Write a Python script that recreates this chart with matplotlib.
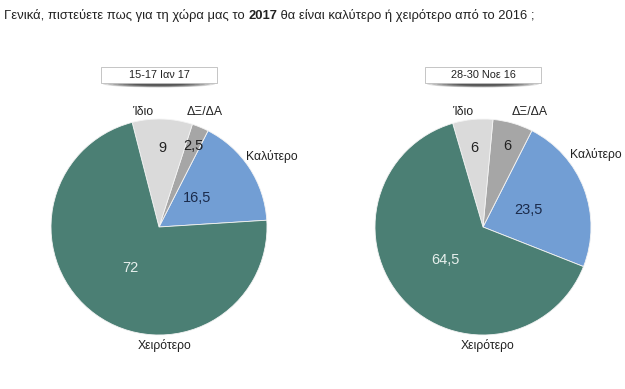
import matplotlib.pyplot as plt
from matplotlib.patches import FancyBboxPatch, Ellipse

plt.rcParams['font.family'] = ['Liberation Sans', 'DejaVu Sans']

categories = ['Καλύτερο', 'ΔΞ/ΔΑ', 'Ίδιο', 'Χειρότερο']
jan17 = [16.5, 2.5, 9, 72]
nov16 = [23.5, 6, 6, 64.5]
value_labels_jan = ['16,5', '2,5', '9', '72']
value_labels_nov = ['23,5', '6', '6', '64,5']
titles = ['15-17 Ιαν 17', '28-30 Νοε 16']
question = ['Γενικά, πιστεύετε πως για τη χώρα μας το ', '2017', ' θα είναι καλύτερο ή χειρότερο από το 2016 ;']

colors = ['#729ed4', '#a6a6a6', '#dadada', '#4b7f74']
num_colors = ['#1b2b4b', '#222222', '#222222', '#e6efec']

W, H = 625, 389
fig = plt.figure(figsize=(W / 100, H / 100), dpi=100)

# question line, middle part in bold, all on one baseline
renderer = fig.canvas.get_renderer()
x = 4
for part, wt in zip(question, ['normal', 'bold', 'normal']):
    t = fig.text(x / W, 1 - 19 / H, part, fontsize=9.4, fontweight=wt,
                 va='baseline', ha='left', color='#222222')
    x += t.get_window_extent(renderer).width

R = 108


def draw_pie(cx, cy, vals, vlabels, start, title, label_pos, num_pos):
    ax = fig.add_axes([(cx - R - 30) / W, 1 - (cy + R + 30) / H, (2 * R + 60) / W, (2 * R + 60) / H])
    ax.pie(vals, colors=colors, startangle=start, counterclock=True, radius=1,
           wedgeprops=dict(edgecolor='#f4f4f4', linewidth=0.6))
    s = (R + 30) / R
    ax.set_xlim(-s, s)
    ax.set_ylim(-s, s)
    ax.set_aspect('equal')
    ax.axis('off')
    for cat, (dx, dy) in zip(categories, label_pos):
        ax.text(dx / R, -dy / R, cat, ha='center', va='center', fontsize=8.8, color='#222222')
    for lab, c, (dx, dy) in zip(vlabels, num_colors, num_pos):
        ax.text(dx / R, -dy / R, lab, ha='center', va='center', fontsize=10.5, color=c)

    # title box with shadow
    bx0, bx1, by0, by1 = cx - 58, cx + 58, 67, 83
    for i in range(7):
        e = Ellipse(((bx0 + bx1) / 2 / W, 1 - (by1 + 1) / H), (bx1 - bx0 - 4 - i * 10) / W, (7 - i * 0.6) / H,
                    transform=fig.transFigure, facecolor='#000000', alpha=0.14, edgecolor='none')
        fig.patches.append(e)
    box = FancyBboxPatch((bx0 / W, 1 - by1 / H), (bx1 - bx0) / W, (by1 - by0) / H,
                         boxstyle='square,pad=0', transform=fig.transFigure,
                         facecolor='white', edgecolor='#bbbbbb', linewidth=0.6)
    fig.patches.append(box)
    fig.text((bx0 + bx1) / 2 / W, 1 - (by0 + by1) / 2 / H, title, ha='center', va='center',
             fontsize=7.8, color='#222222')


draw_pie(159, 227, jan17, value_labels_jan, 3.6, titles[0],
         [(113, -70), (46, -115), (-16, -115), (6, 118)],
         [(38, -29), (34, -81), (3, -79), (-29, 41)])
draw_pie(483, 227, nov16, value_labels_nov, -21.5, titles[1],
         [(113, -72), (47, -115), (-20, -115), (5, 118)],
         [(45, -17), (24, -81), (-9, -79), (-38, 33)])

fig.savefig('out.png', dpi=100)
